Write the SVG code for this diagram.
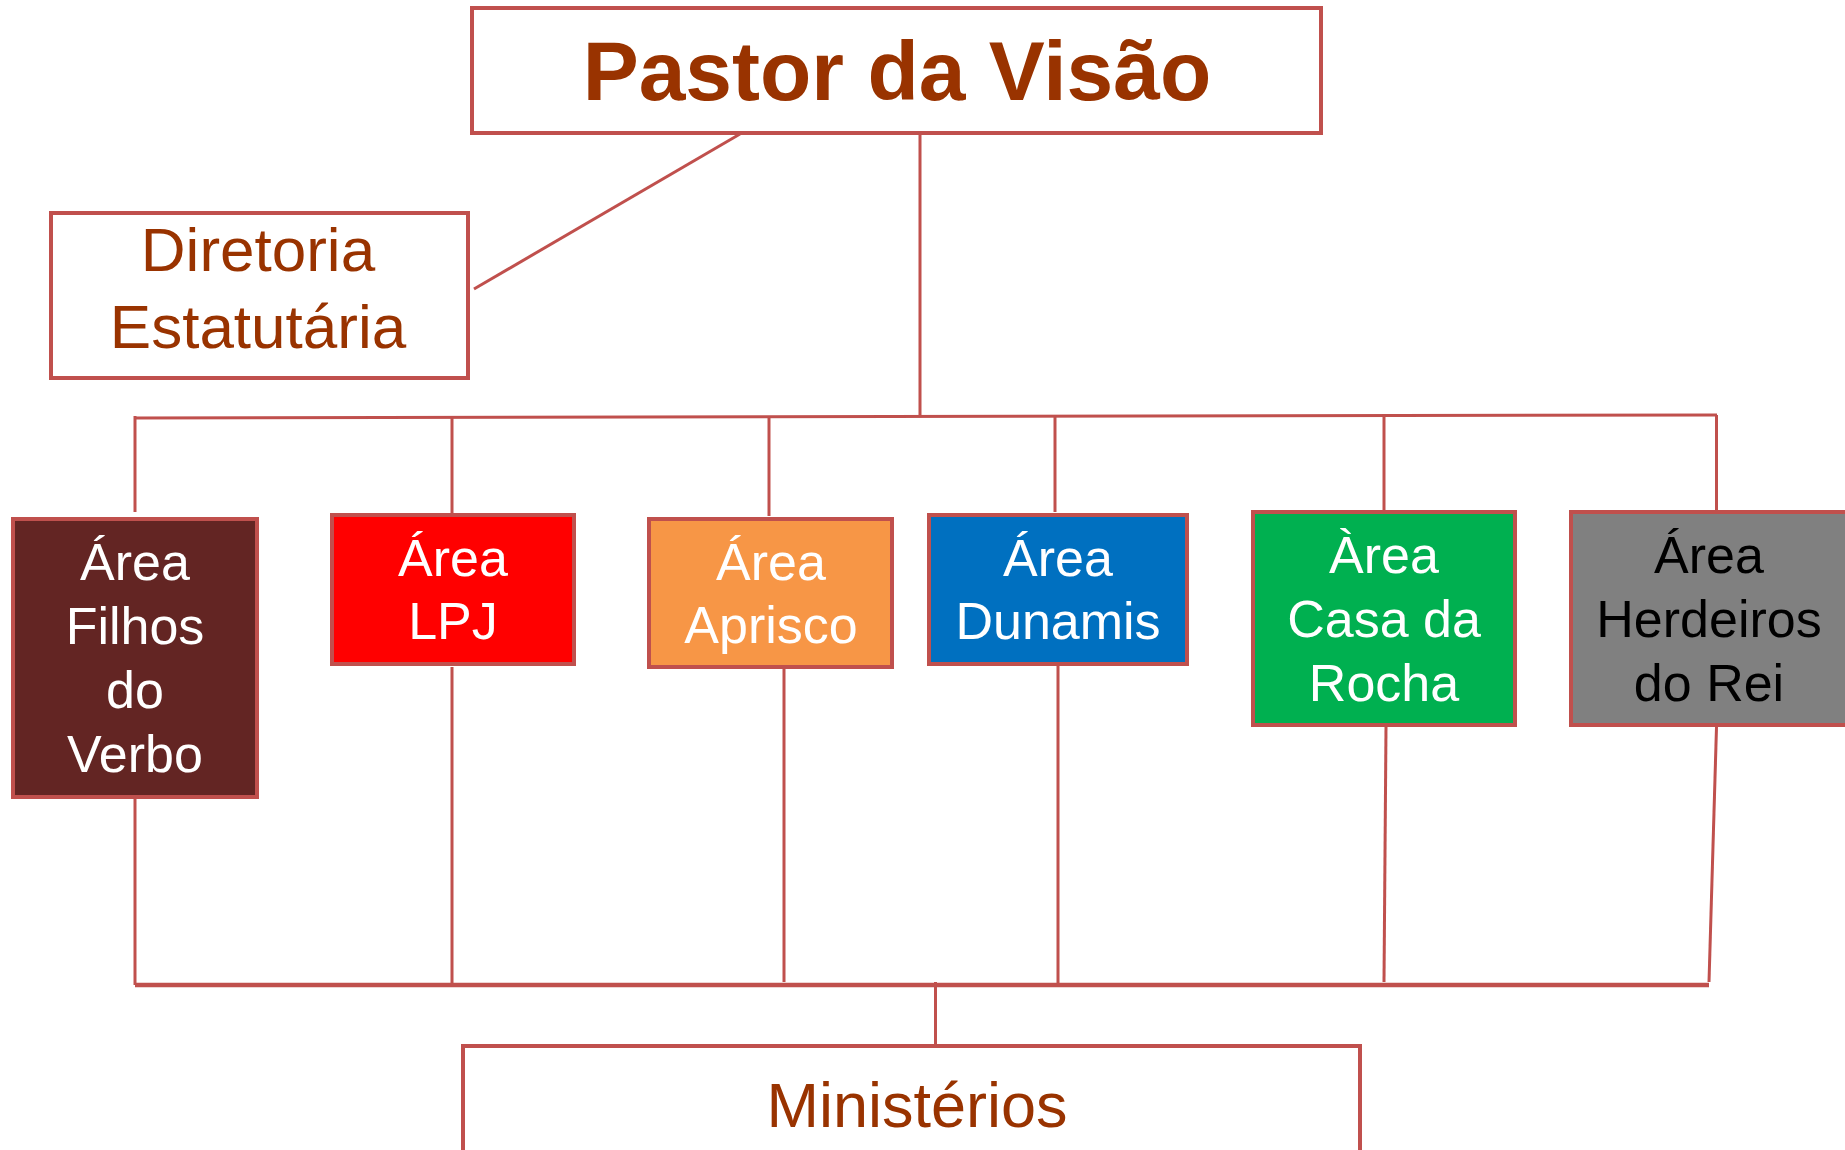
<svg xmlns="http://www.w3.org/2000/svg" width="1845" height="1150" viewBox="0 0 1845 1150">
<style>
.box{stroke:#C0504D;stroke-width:4}
.ln{stroke:#C0504D;stroke-width:3;fill:none}
.t{font-family:"Liberation Sans",Arial,sans-serif;text-anchor:middle}
.brown{fill:#993300}
.w{fill:#FFFFFF;font-size:52px}
.k{fill:#000000;font-size:52px}
</style>
<rect width="1845" height="1150" fill="#FFFFFF"/>
<g id="connectors">
<line class="ln" x1="740" y1="134" x2="474" y2="289"/>
<line class="ln" x1="920" y1="134" x2="920" y2="417"/>
<line class="ln" x1="135" y1="418" x2="1717" y2="415"/>
<line class="ln" x1="135" y1="416" x2="135" y2="512"/>
<line class="ln" x1="452" y1="418" x2="452" y2="514"/>
<line class="ln" x1="769" y1="418" x2="769" y2="516"/>
<line class="ln" x1="1055" y1="417" x2="1055" y2="512"/>
<line class="ln" x1="1384" y1="416" x2="1384" y2="511"/>
<line class="ln" x1="1716.5" y1="415" x2="1716.5" y2="511"/>
<line class="ln" x1="135" y1="797" x2="135" y2="985"/>
<line class="ln" x1="452" y1="667" x2="452" y2="985"/>
<line class="ln" x1="784" y1="667" x2="784" y2="982"/>
<line class="ln" x1="1058" y1="658" x2="1058" y2="985"/>
<line class="ln" x1="1386" y1="727" x2="1384" y2="982"/>
<line class="ln" x1="1716.5" y1="727" x2="1709" y2="982"/>
<line class="ln" x1="135" y1="985" x2="1709" y2="985" style="stroke-width:4.5"/>
<line class="ln" x1="935.5" y1="982" x2="935.5" y2="1046"/>
</g>
<g id="pastor">
<rect class="box" x="472" y="8" width="849" height="125" fill="#FFFFFF"/>
<text class="t brown" x="897" y="100" font-size="84" font-weight="bold">Pastor da Visão</text>
</g>
<g id="diretoria">
<rect class="box" x="51" y="213" width="417" height="165" fill="#FFFFFF"/>
<text class="t brown" x="258" y="271" font-size="62">Diretoria</text>
<text class="t brown" x="258" y="348" font-size="62">Estatutária</text>
</g>
<g id="filhos">
<rect class="box" x="13" y="519" width="244" height="278" fill="#632523"/>
<text class="t w" x="135" y="580">Área</text>
<text class="t w" x="135" y="644">Filhos</text>
<text class="t w" x="135" y="708">do</text>
<text class="t w" x="135" y="772">Verbo</text>
</g>
<g id="lpj">
<rect class="box" x="332" y="515" width="242" height="149" fill="#FF0000"/>
<text class="t w" x="453" y="576">Área</text>
<text class="t w" x="453" y="639">LPJ</text>
</g>
<g id="aprisco">
<rect class="box" x="649" y="519" width="243" height="148" fill="#F79646"/>
<text class="t w" x="771" y="580">Área</text>
<text class="t w" x="771" y="643">Aprisco</text>
</g>
<g id="dunamis">
<rect class="box" x="929" y="515" width="258" height="149" fill="#0070C0"/>
<text class="t w" x="1058" y="576">Área</text>
<text class="t w" x="1058" y="639">Dunamis</text>
</g>
<g id="casa">
<rect class="box" x="1253" y="512" width="262" height="213" fill="#00B050"/>
<text class="t w" x="1384" y="573">Àrea</text>
<text class="t w" x="1384" y="637">Casa da</text>
<text class="t w" x="1384" y="701">Rocha</text>
</g>
<g id="herdeiros">
<rect class="box" x="1571" y="512" width="276" height="213" fill="#808080"/>
<text class="t k" x="1709" y="573">Área</text>
<text class="t k" x="1709" y="637">Herdeiros</text>
<text class="t k" x="1709" y="701">do Rei</text>
</g>
<g id="ministerios">
<rect class="box" x="463" y="1046" width="897" height="120" fill="#FFFFFF"/>
<text class="t brown" x="917" y="1127" font-size="63">Ministérios</text>
</g>
</svg>
